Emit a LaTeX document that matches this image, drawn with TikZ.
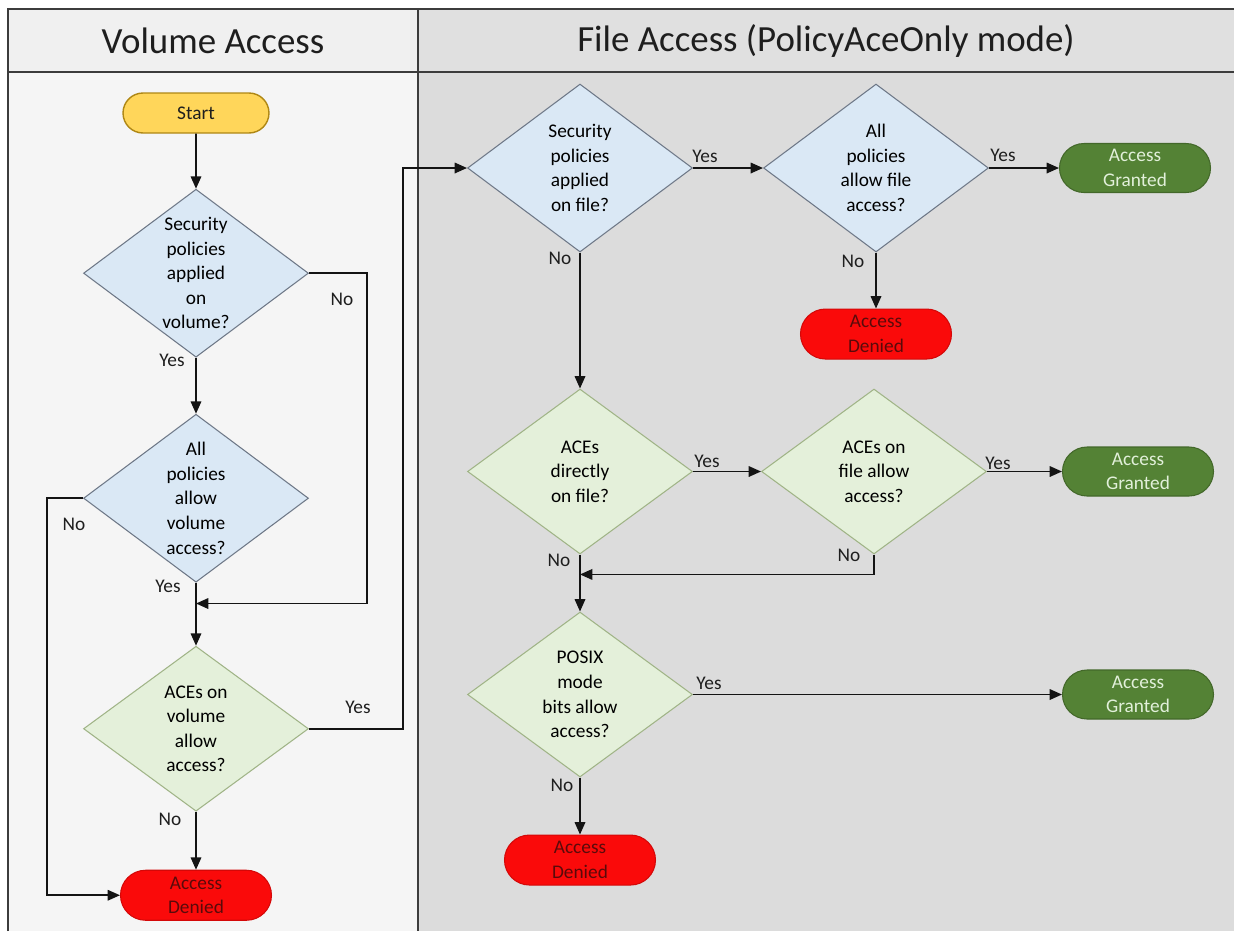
\documentclass[tikz,border=0pt]{standalone}
\usepackage{fontspec}
\setmainfont{Carlito}
\usepackage{xcolor}
\usepackage{tikz}
\usetikzlibrary{shapes.geometric, shapes.misc, arrows.meta, positioning, calc}
\definecolor{linedark}{RGB}{20,20,20}
\definecolor{framedark}{RGB}{60,60,60}
\definecolor{titledark}{RGB}{30,30,30}
\definecolor{hdrleft}{RGB}{240,240,240}
\definecolor{hdrright}{RGB}{224,224,224}
\definecolor{bodyleft}{RGB}{245,245,245}
\definecolor{bodyright}{RGB}{220,220,220}
\definecolor{startfill}{RGB}{255,214,90}
\definecolor{startdraw}{RGB}{175,135,20}
\definecolor{bluefill}{RGB}{218,232,245}
\definecolor{bluedraw}{RGB}{110,120,135}
\definecolor{greenfill}{RGB}{228,240,218}
\definecolor{greendraw}{RGB}{160,180,135}
\definecolor{deniedred}{RGB}{250,10,10}
\definecolor{deniedtext}{RGB}{90,10,10}
\definecolor{grantgreen}{RGB}{84,130,53}
\definecolor{granttext}{RGB}{226,240,218}
\newcommand{\flowfont}{\fontsize{11}{14}\selectfont}
\newcommand{\headfont}{\fontsize{21}{25}\selectfont}
\tikzset{
  startblock/.style={rounded rectangle, draw=startdraw, fill=startfill,
    minimum width=2.92cm, minimum height=0.8cm, inner sep=0pt,
    line width=0.8pt, text=titledark},
  bluedec/.style={diamond, draw=bluedraw, fill=bluefill, align=center,
    minimum width=4.5cm, minimum height=3.36cm, inner sep=-8pt, line width=0.6pt},
  greendec/.style={diamond, draw=greendraw, fill=greenfill, align=center,
    minimum width=4.5cm, minimum height=3.3cm, inner sep=-8pt, line width=0.6pt},
  deniedblock/.style={rounded rectangle, draw=deniedred!85!black, fill=deniedred,
    text=deniedtext, align=center, minimum width=3.02cm, minimum height=1cm,
    inner sep=0pt, line width=0.6pt},
  grantedblock/.style={rounded rectangle, draw=grantgreen!80!black, fill=grantgreen,
    text=granttext, align=center, minimum width=3.02cm, minimum height=0.98cm,
    inner sep=0pt, line width=0.6pt},
  arrow/.style={-{Triangle[length=7pt,width=6pt]}, line width=0.9pt, color=linedark},
  frame/.style={line width=1.2pt, color=framedark},
  lab/.style={inner sep=0pt, font=\flowfont, text=titledark},
  lanetitle/.style={font=\headfont, text=titledark}
}
\begin{document}
\begin{tikzpicture}[x=0.02cm, y=-0.02cm, font=\flowfont]
  \useasboundingbox (0,0) rectangle (1234,931);
  % lanes
  \fill[hdrleft] (8,9) rectangle (418,72);
  \fill[hdrright] (418,9) rectangle (1234,72);
  \fill[bodyleft] (8,72) rectangle (418,931);
  \fill[bodyright] (418,72) rectangle (1234,931);
  \draw[frame] (8,931) -- (8,9) -- (1234,9);
  \draw[frame] (8,72) -- (1234,72);
  \draw[frame] (418,9) -- (418,931);
  \node[lanetitle] (voltitle) at (213,41) {Volume Access};
  \node[lanetitle] (filetitle) at (826,41) {File Access (PolicyAceOnly mode)};

  % volume access
  \node[startblock] (start) at (196,113) {Start};
  \node[bluedec, below=1.1cm of start] (volpol) {Security\\policies\\applied\\on\\volume?};
  \node[bluedec, below=1.12cm of volpol] (volallow) {All\\policies\\allow\\volume\\access?};
  \node[greendec, below=1.26cm of volallow] (volace) {ACEs on\\volume\\allow\\access?};
  \node[deniedblock, below=1.16cm of volace] (voldenied) {Access\\Denied};
  \coordinate (volmerge) at ($(volallow.south)!0.33!(volace.north)$);

  % file access
  \node[bluedec] (filepol) at (580,168) {Security\\policies\\applied\\on file?};
  \node[bluedec, right=1.4cm of filepol] (fileallow) {All\\policies\\allow file\\access?};
  \node[grantedblock, right=1.4cm of fileallow] (filegranted) {Access\\Granted};
  \node[deniedblock, below=1.12cm of fileallow] (filedenied) {Access\\Denied};
  \node[greendec, below=2.72cm of filepol] (acedirect) {ACEs\\directly\\on file?};
  \node[greendec, right=1.36cm of acedirect] (aceallow) {ACEs on\\file allow\\access?};
  \node[grantedblock, right=1.5cm of aceallow] (acegranted) {Access\\Granted};
  \node[greendec, below=1.14cm of acedirect] (posix) {POSIX\\mode\\bits allow\\access?};
  \node[deniedblock, below=1.14cm of posix] (posixdenied) {Access\\Denied};
  \node[grantedblock] (posixgranted) at (posix -| acegranted) {Access\\Granted};
  \coordinate (acemerge) at ($(acedirect.south)!0.35!(posix.north)$);

  \draw[arrow] (start) -- (volpol.north);
  \draw[arrow] (volpol.south) node[lab, shift={(-24,3)}] {Yes} -- (volallow.north);
  \draw[arrow] (volpol.east) node[lab, shift={(33,26)}] {No} -- ++(58,0) |- (volmerge);
  \draw[arrow] (volallow.south) node[lab, shift={(-28,4)}] {Yes} -- (volace.north);
  \draw[arrow] (volallow.west) node[lab, shift={(-9,26)}] {No} -- ++(-36,0) |- (voldenied.west);
  \draw[arrow] (volace.south) node[lab, shift={(-26,8)}] {No} -- (voldenied.north);
  \draw[arrow] (volace.east) node[lab, shift={(49,-21)}] {Yes} -- ++(94,0) |- (filepol.west);

  \draw[arrow] (filepol.east) node[lab, shift={(12,-12)}] {Yes} -- (fileallow.west);
  \draw[arrow] (fileallow.east) node[lab, shift={(14,-13)}] {Yes} -- (filegranted.west);
  \draw[arrow] (fileallow.south) node[lab, shift={(-23,9)}] {No} -- (filedenied.north);
  \draw[arrow] (filepol.south) node[lab, shift={(-20,6)}] {No} -- (acedirect.north);
  \draw[arrow] (acedirect.east) node[lab, shift={(14,-10)}] {Yes} -- (aceallow.west);
  \draw[arrow] (aceallow.east) node[lab, shift={(11,-8)}] {Yes} -- (acegranted.west);
  \draw[arrow] (aceallow.south) node[lab, shift={(-25,1)}] {No} |- (acemerge);
  \draw[arrow] (acedirect.south) node[lab, shift={(-21,6)}] {No} -- (posix.north);
  \draw[arrow] (posix.east) node[lab, shift={(16,-11)}] {Yes} -- (posixgranted.west);
  \draw[arrow] (posix.south) node[lab, shift={(-18,8)}] {No} -- (posixdenied.north);
\end{tikzpicture}
\end{document}
